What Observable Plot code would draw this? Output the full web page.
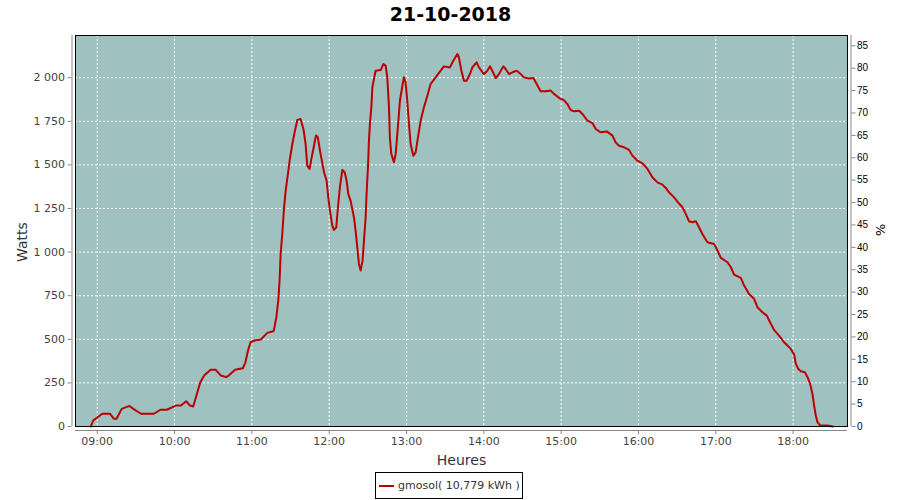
<!DOCTYPE html>
<html><head><meta charset="utf-8">
<script src="https://cdn.jsdelivr.net/npm/d3@7"></script>
<script src="https://cdn.jsdelivr.net/npm/@observablehq/plot@0.6"></script>
<style>
body{margin:0;background:#fff;font-family:"DejaVu Sans",sans-serif}
#wrap{position:relative;width:900px;height:500px}
#legend{position:absolute;left:375px;top:472px;width:146px;height:25px;border:1px solid #000;display:flex;align-items:center;font-size:11px;color:#333;font-family:"DejaVu Sans",sans-serif}
#legend .sw{display:inline-block;width:15px;height:2px;background:#bb0000;margin:0 4px 0 3px}
</style></head><body>
<div id="wrap"><div id="legend"><span class="sw"></span><span>gmosol( 10,779 kWh )</span></div></div>
<script>
const chartTitle = "21-10-2018";
const seriesName = "gmosol(\u00a010,779 kWh\u00a0)";
const times = ["08:55","08:57","09:04","09:10","09:13","09:15","09:19","09:25","09:28","09:34","09:39","09:44","09:49","09:54","10:01","10:05","10:09","10:12","10:14:30","10:17","10:20","10:23","10:28","10:32","10:36","10:40","10:42","10:47","10:53","10:55","10:57","10:59","11:02","11:07","11:12","11:17","11:19","11:20:30","11:21:30","11:22:20","11:23:36","11:25","11:26:24","11:28","11:29:30","11:31:24","11:33:12","11:35:18","11:37:48","11:40","11:41:42","11:43","11:44:48","11:46:24","11:48","11:49:42","11:51:12","11:53:18","11:56","11:58","11:59:18","12:00:36","12:02:24","12:03:42","12:05:30","12:06:48","12:08:18","12:10:12","12:12","12:13:30","12:14:48","12:16:36","12:17:54","12:19:12","12:20:30","12:21:48","12:23:06","12:24:24","12:25:54","12:27","12:28:18","12:29","12:30:06","12:30:48","12:31:36","12:32:42","12:33:30","12:36","12:40","12:42","12:43:48","12:45:06","12:46:24","12:47:06","12:48:12","12:50:12","12:51:36","12:53:18","12:54:54","12:56:48","12:58","12:59:18","13:00:36","13:01:54","13:03:12","13:05:18","13:07:06","13:08:54","13:11","13:13:30","13:16:12","13:18:42","13:22:36","13:26:30","13:29:06","13:33:42","13:36:18","13:39:30","13:40:42","13:42:36","13:44:36","13:46:42","13:49:12","13:51:06","13:54:24","13:56:12","14:00:06","14:02:42","14:04:48","14:06:36","14:09:12","14:11:42","14:15:12","14:16:54","14:19:30","14:22:12","14:25:30","14:28","14:31:12","14:35","14:38:30","14:41","14:44:06","14:48","14:51:54","14:54:24","14:59:36","15:02:12","15:04:48","15:07:24","15:10","15:13:54","15:16:30","15:20:24","15:24:18","15:26:48","15:30:42","15:35:24","15:39:48","15:42:18","15:44:54","15:48:48","15:52:42","15:55:18","15:59:12","16:03:06","16:07","16:10:48","16:14:42","16:18:36","16:21:12","16:23:42","16:27:36","16:30:42","16:34:06","16:36:42","16:39:12","16:41:54","16:44:30","16:47","16:49:36","16:53:30","16:58:42","17:01:18","17:03:54","17:09:06","17:11:42","17:14:12","17:19:24","17:22","17:25:48","17:29:42","17:32:18","17:36:12","17:39:36","17:42:06","17:45:12","17:49:06","17:53","17:58:12","18:00:48","18:02:06","18:03:54","18:06","18:09:06","18:11:12","18:13:12","18:15","18:16:18","18:17:36","18:18:54","18:21","18:26:42","18:30:36"];
const watts = [0,35,73,73,44,44,101,118,101,73,73,73,96,96,120,120,145,120,115,178,254,292,325,325,292,283,292,325,334,368,436,483,493,499,537,548,626,722,837,990,1104,1257,1362,1448,1534,1620,1687,1758,1763,1706,1620,1496,1477,1543,1601,1668,1658,1563,1458,1410,1314,1238,1152,1127,1142,1257,1371,1471,1458,1410,1334,1295,1248,1200,1123,1028,932,894,951,1066,1200,1334,1486,1629,1735,1830,1944,2040,2044,2078,2069,2002,1830,1658,1563,1515,1563,1715,1868,1954,2002,1973,1868,1735,1620,1553,1572,1658,1754,1830,1897,1964,2002,2040,2065,2059,2097,2136,2116,2040,1983,1983,2021,2059,2088,2059,2021,2040,2065,2040,1998,2021,2065,2050,2021,2031,2040,2025,2002,1996,1998,1964,1922,1922,1926,1907,1878,1872,1849,1815,1807,1811,1792,1754,1740,1706,1687,1692,1668,1629,1610,1601,1586,1553,1524,1509,1477,1429,1400,1387,1368,1343,1314,1285,1257,1219,1177,1171,1177,1142,1104,1056,1047,1009,967,942,913,871,852,808,760,732,684,655,636,598,554,521,483,445,413,359,331,317,311,283,245,187,120,63,25,6,6,0];
const hourLabels = ["09:00","10:00","11:00","12:00","13:00","14:00","15:00","16:00","17:00","18:00"];
const timeRange = ["08:43:09","18:42:12"];
const wattTicks = [0,250,500,750,1000,1250,1500,1750,2000];
const wattMax = 2242;
const pctTicks = [0,5,10,15,20,25,30,35,40,45,50,55,60,65,70,75,80,85];
const pctMax = 87.3;

const parse = s => { const [h,m,sec=0] = s.split(":").map(Number); return new Date(Date.UTC(2018,9,21,h,m,sec)); };
const data = times.map((t,i)=>({t:parse(t), w:watts[i]}));
const xDomain = timeRange.map(parse);
const hourTicks = hourLabels.map(parse);
const grid = {stroke:"white", strokeDasharray:"2,2", strokeWidth:1, strokeOpacity:1};

const chart = Plot.plot({
  width:900, height:500, marginTop:35, marginRight:53, marginBottom:74, marginLeft:75,
  style:{fontFamily:"DejaVu Sans", fontSize:"11px", background:"transparent"},
  x:{type:"utc", domain:xDomain},
  y:{domain:[0,wattMax]},
  marks:[
    Plot.frame({fill:"#9fc2c1"}),
    Plot.ruleX(hourTicks, grid),
    Plot.ruleY(wattTicks.filter(d=>d>0), grid),
    Plot.line(data,{x:"t", y:"w", stroke:"#bb0000", strokeWidth:2}),
    Plot.frame({stroke:"black"}),
    Plot.ruleX([xDomain[0]],{dx:-3.5, stroke:"#888"}),
    Plot.ruleX([xDomain[1]],{dx:3.5, stroke:"#888"}),
    Plot.ruleY([0],{dy:4, stroke:"#888"}),
    Plot.axisY(wattTicks,{anchor:"left", dx:-3.5, tickSize:4, tickPadding:3, stroke:"#888", fill:"#444", label:null,
      tickFormat:d=>d3.format(",")(d).replace(/,/g," ")}),
    Plot.axisY(pctTicks.map(p=>p*wattMax/pctMax),{anchor:"right", dx:3.5, tickSize:4, tickPadding:2, stroke:"#888", fill:"#000", label:null,
      fontFamily:"Liberation Sans", fontSize:10, tickFormat:w=>Math.round(w*pctMax/wattMax)}),
    Plot.axisX(hourTicks,{anchor:"bottom", dy:4, tickSize:4, tickPadding:3, stroke:"#888", fill:"#444", label:null,
      tickFormat:d3.utcFormat("%H:%M")}),
    Plot.text([chartTitle],{frameAnchor:"top", dx:-11, dy:-28, fontSize:19, fontWeight:"bold", fill:"#000"}),
    Plot.text(["Watts"],{frameAnchor:"left", textAnchor:"middle", dx:-53, dy:11, rotate:-90, fontSize:14, fill:"#333"}),
    Plot.text(["%"],{frameAnchor:"right", textAnchor:"middle", dx:33, dy:-1, rotate:90, fontSize:13, fill:"#000"}),
    Plot.text(["Heures"],{frameAnchor:"bottom", dy:38, fontSize:14, fill:"#333"})
  ]
});
document.getElementById("wrap").prepend(chart);
document.querySelector("#legend span:last-child").textContent = seriesName;
</script>
</body></html>
